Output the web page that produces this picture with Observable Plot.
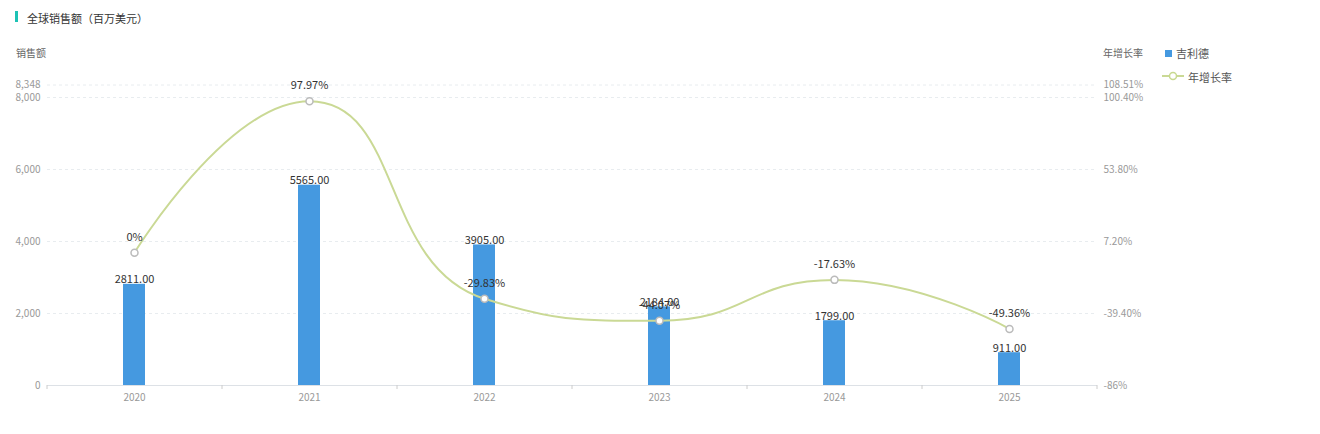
<!DOCTYPE html>
<html>
<head>
<meta charset="utf-8">
<script src="https://cdn.jsdelivr.net/npm/d3@7"></script>
<script src="https://cdn.jsdelivr.net/npm/@observablehq/plot@0.6"></script>
<style>
  body { margin: 0; background: #fff; font-family: "Noto Sans CJK SC", "Noto Sans", sans-serif; }
  #wrap { position: relative; width: 1320px; height: 434px; overflow: hidden; }
  .abs { position: absolute; white-space: nowrap; }
  .title { left: 27px; top: 10px; font-size: 11px; color: #333; }
  .title-bar { left: 15px; top: 11px; width: 3px; height: 11px; background: #1dc2b5; }
  .axlab { font-size: 10px; color: #666; }
  .leg { font-size: 11px; color: #555; }
</style>
</head>
<body>
<div id="wrap">
  <div class="abs title-bar"></div>
  <div class="abs title">全球销售额（百万美元）</div>
  <div class="abs axlab" style="left:16px; top:45px;">销售额</div>
  <div class="abs axlab" style="left:1103px; top:45px;">年增长率</div>
  <div class="abs" style="left:1165px; top:50px; width:7px; height:7px; background:#4599e0;"></div>
  <div class="abs leg" style="left:1176px; top:45px;">吉利德</div>
  <svg class="abs" style="left:1161px; top:70px;" width="24" height="12">
    <line x1="1" y1="6" x2="23" y2="6" stroke="#cad995" stroke-width="2"/>
    <circle cx="12" cy="6" r="3.5" fill="#fff" stroke="#c8d98f" stroke-width="1.5"/>
  </svg>
  <div class="abs leg" style="left:1188px; top:69px;">年增长率</div>
  <div id="chart" class="abs" style="left:0; top:0;"></div>
</div>
<script>
const years = ["2020", "2021", "2022", "2023", "2024", "2025"];
const sales = [2811, 5565, 3905, 2184, 1799, 911];
const growth = [0, 97.97, -29.83, -44.07, -17.63, -49.36];
const growthLabels = ["0%", "97.97%", "-29.83%", "-44.07%", "-17.63%", "-49.36%"];
const leftTicks = [0, 2000, 4000, 6000, 8000, 8348];
const rightTickLabels = ["-86%", "-39.40%", "7.20%", "53.80%", "100.40%", "108.51%"];
const leftMax = 8348;
const rightDomain = [-86, 108.51];

const toLeft = d3.scaleLinear().domain(rightDomain).range([0, leftMax]);
const data = years.map((y, i) => ({
  year: y, sales: sales[i], rate: growth[i], rateY: toLeft(growth[i]), rateLabel: growthLabels[i]
}));

// Smoothed curve with clamped control points (no overshoot), as a d3 curve factory
function clampedSmooth(context) {
  let pts = [];
  const smooth = 0.5;
  const clamp = (v, a, b) => Math.max(Math.min(v, Math.max(a, b)), Math.min(a, b));
  return {
    areaStart() {}, areaEnd() {},
    lineStart() { pts = []; },
    point(x, y) { pts.push([+x, +y]); },
    lineEnd() {
      const n = pts.length;
      if (!n) return;
      let [cpx0, cpy0] = pts[0];
      context.moveTo(pts[0][0], pts[0][1]);
      for (let k = 1; k < n; k++) {
        const [px, py] = pts[k - 1];
        const [x, y] = pts[k];
        let cpx1 = x, cpy1 = y, ncx = x, ncy = y;
        if (k < n - 1) {
          const [nx, ny] = pts[k + 1];
          let vx = nx - px, vy = ny - py;
          const lp = Math.hypot(x - px, y - py);
          const ln = Math.hypot(nx - x, ny - y);
          const r = ln / (ln + lp);
          ncx = clamp(x + vx * smooth * r, nx, x);
          ncy = clamp(y + vy * smooth * r, ny, y);
          vx = ncx - x; vy = ncy - y;
          cpx1 = clamp(x - vx * lp / ln, px, x);
          cpy1 = clamp(y - vy * lp / ln, py, y);
          vx = x - cpx1; vy = y - cpy1;
          ncx = x + vx * ln / lp;
          ncy = y + vy * ln / lp;
        }
        context.bezierCurveTo(cpx0, cpy0, cpx1, cpy1, x, y);
        cpx0 = ncx; cpy0 = ncy;
      }
    }
  };
}

const font = '"Noto Sans CJK SC", "Noto Sans", sans-serif';
const chart = Plot.plot({
  width: 1320,
  height: 434,
  marginLeft: 47,
  marginRight: 223,
  marginTop: 84.5,
  marginBottom: 49,
  style: { fontFamily: font, background: "transparent" },
  x: { domain: years, type: "band", paddingInner: 0.874, paddingOuter: 0.437 },
  y: { domain: [0, leftMax] },
  marks: [
    Plot.gridY(leftTicks, { stroke: "#e8ecef", strokeOpacity: 1, strokeDasharray: "3,3" }),
    Plot.axisY(leftTicks, { anchor: "left", tickSize: 0, tickPadding: 7, tickFormat: d3.format(","), fontSize: 10, color: "#999", label: null }),
    Plot.axisY(leftTicks, { anchor: "right", tickSize: 0, tickPadding: 6, tickFormat: d => rightTickLabels[leftTicks.indexOf(d)], fontSize: 10, color: "#999", label: null }),
    Plot.ruleY([0], { stroke: "#dde1e6", strokeWidth: 1 }),
    Plot.ruleX(years, { x: d => d, y1: 0, y2: 0, dx: -87.5, insetBottom: -4, stroke: "#ccc" }),
    Plot.ruleX([years[years.length - 1]], { x: d => d, y1: 0, y2: 0, dx: 87.5, insetBottom: -4, stroke: "#ccc" }),
    Plot.axisX({ tickSize: 0, tickPadding: 8, fontSize: 10, color: "#999", label: null }),
    Plot.barY(data, { x: "year", y: "sales", fill: "#4599e0" }),
    Plot.text(data, { x: "year", y: "sales", text: d => d.sales.toFixed(2), lineAnchor: "bottom", dy: -1, fontSize: 11, fill: "#333" }),
    Plot.line(data, { x: "year", y: "rateY", stroke: "#cad995", strokeWidth: 2, curve: clampedSmooth }),
    Plot.dot(data, { x: "year", y: "rateY", r: 3.5, fill: "#fff", stroke: "#bbbbbb", strokeWidth: 1.5 }),
    Plot.text(data, { x: "year", y: "rateY", text: "rateLabel", lineAnchor: "bottom", dy: -12, fontSize: 11, fill: "#333" })
  ]
});
document.getElementById("chart").appendChild(chart);
</script>
</body>
</html>
